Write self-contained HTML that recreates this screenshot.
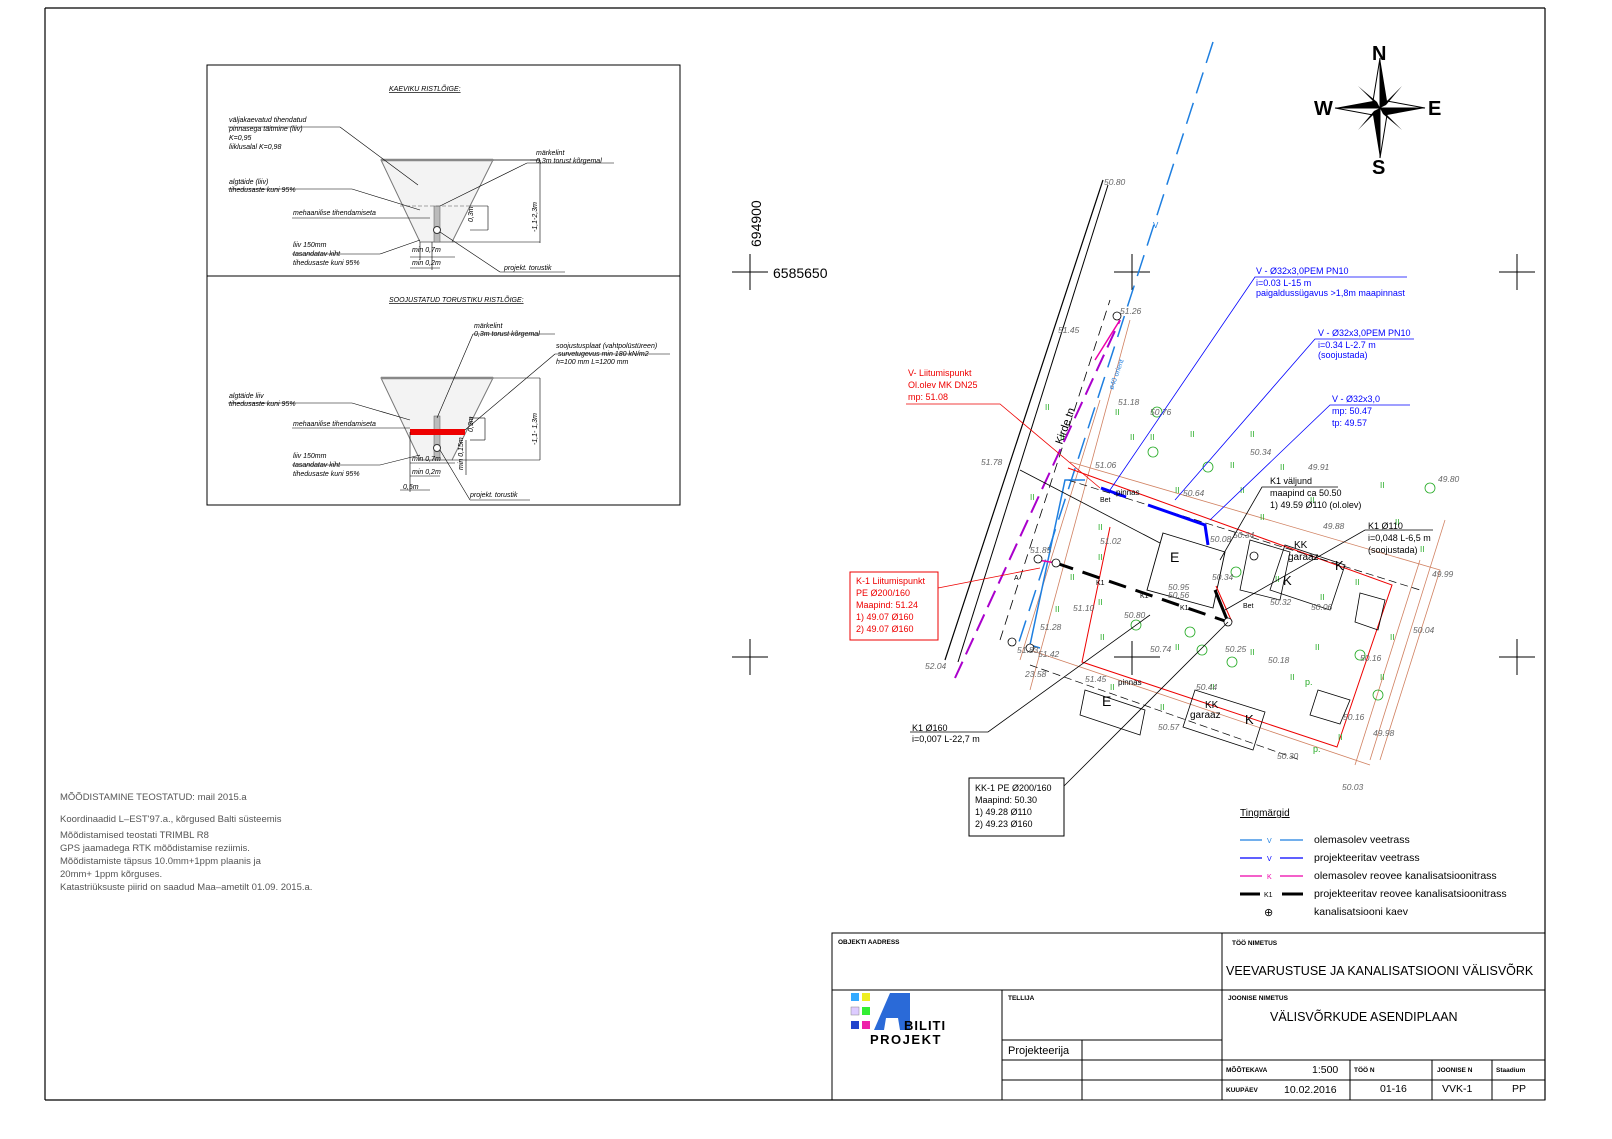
<!DOCTYPE html>
<html><head><meta charset="utf-8"><style>
html,body{margin:0;padding:0;background:#fff}
svg{display:block}
text{font-family:"Liberation Sans",sans-serif}
.it{font-style:italic;font-size:7px}
.g{fill:#666;font-style:italic;font-size:8.5px}
</style></head><body>
<svg width="1612" height="1139" viewBox="0 0 1612 1139" xmlns="http://www.w3.org/2000/svg">
<rect width="1612" height="1139" fill="#fff"/>
<!-- frame -->
<line x1="45" y1="8" x2="1545" y2="8" stroke="#000" stroke-width="1.2"/>
<line x1="45" y1="8" x2="45" y2="1100" stroke="#000" stroke-width="1.2"/>
<line x1="1545" y1="8" x2="1545" y2="1100" stroke="#000" stroke-width="1.2"/>
<line x1="45" y1="1100" x2="930" y2="1100" stroke="#000" stroke-width="1.2"/>

<!-- cross section box -->
<rect x="207" y="65" width="473" height="440" fill="none" stroke="#000" stroke-width="1"/>
<line x1="207" y1="276" x2="680" y2="276" stroke="#000"/>
<text x="389" y="91" class="it" font-size="8" text-decoration="underline">KAEVIKU RISTLÕIGE:</text>
<polygon points="381,160 493,160 452,242 420,242" fill="#f3f3f3" stroke="#777"/>
<line x1="381" y1="160" x2="493" y2="160" stroke="#888" stroke-width="2.5"/>
<rect x="434" y="206" width="6" height="36" fill="#bbb" stroke="#555" stroke-width=".5"/>
<circle cx="437" cy="230" r="3.5" fill="#fff" stroke="#333"/>
<line x1="400" y1="206" x2="470" y2="206" stroke="#555" stroke-dasharray="4 2" stroke-width=".6"/>
<g stroke="#000" stroke-width=".6" fill="none">
<line x1="228" y1="127" x2="340" y2="127"/><line x1="340" y1="127" x2="418" y2="185"/>
<line x1="228" y1="189" x2="352" y2="189"/><line x1="352" y1="189" x2="420" y2="210"/>
<line x1="292" y1="218" x2="430" y2="218"/>
<line x1="292" y1="254" x2="380" y2="254"/><line x1="380" y1="254" x2="420" y2="240"/>
<line x1="493" y1="160" x2="540" y2="160"/><line x1="540" y1="160" x2="530" y2="160"/>
<line x1="527" y1="163" x2="614" y2="163"/><line x1="527" y1="163" x2="440" y2="206"/>
<line x1="500" y1="272" x2="565" y2="272"/><line x1="500" y1="272" x2="440" y2="232"/>
<line x1="493" y1="160" x2="540" y2="160"/><line x1="540" y1="160" x2="540" y2="243"/><line x1="452" y1="242" x2="540" y2="242"/>
<line x1="470" y1="206" x2="488" y2="206"/><line x1="470" y1="230" x2="488" y2="230"/><line x1="488" y1="206" x2="488" y2="230"/>
<line x1="410" y1="257" x2="455" y2="257"/><line x1="410" y1="268" x2="440" y2="268"/>
<line x1="420" y1="242" x2="420" y2="260"/><line x1="432" y1="242" x2="432" y2="270"/>
</g>
<text x="229" y="122" class="it">väljakaevatud tihendatud</text>
<text x="229" y="131" class="it">pinnasega täitmine (liiv)</text>
<text x="229" y="140" class="it">K=0,95</text>
<text x="229" y="149" class="it">liiklusalal K=0,98</text>
<text x="229" y="184" class="it">algtäide (liiv)</text>
<text x="229" y="192" class="it">tihedusaste kuni 95%</text>
<text x="293" y="215" class="it">mehaanilise tihendamiseta</text>
<text x="293" y="247" class="it">liiv 150mm</text>
<text x="293" y="256" class="it">tasandatav kiht</text>
<text x="293" y="265" class="it">tihedusaste kuni 95%</text>
<text x="536" y="155" class="it">märkelint</text>
<text x="536" y="163" class="it">0,3m torust kõrgemal</text>
<text x="504" y="270" class="it">projekt. torustik</text>
<text x="412" y="252" class="it" font-size="6">min 0,7m</text>
<text x="412" y="265" class="it" font-size="6">min 0,2m</text>
<text transform="translate(473,222) rotate(-90)" class="it" font-size="6">0,3m</text>
<text transform="translate(537,232) rotate(-90)" class="it" font-size="6">-1,1-2,3m</text>

<text x="389" y="302" class="it" font-size="8" text-decoration="underline">SOOJUSTATUD TORUSTIKU RISTLÕIGE:</text>
<polygon points="381,378 493,378 452,460 420,460" fill="#f3f3f3" stroke="#777"/>
<line x1="381" y1="378" x2="493" y2="378" stroke="#888" stroke-width="2.5"/>
<rect x="434" y="416" width="6" height="44" fill="#bbb" stroke="#555" stroke-width=".5"/>
<circle cx="437" cy="448" r="3.5" fill="#fff" stroke="#333"/>
<rect x="410" y="429" width="55" height="6" fill="#e00"/>
<g stroke="#000" stroke-width=".6" fill="none">
<line x1="228" y1="403" x2="352" y2="403"/><line x1="352" y1="403" x2="410" y2="420"/>
<line x1="292" y1="428" x2="410" y2="428"/>
<line x1="292" y1="465" x2="380" y2="465"/><line x1="380" y1="465" x2="420" y2="455"/>
<line x1="473" y1="334" x2="555" y2="334"/><line x1="473" y1="334" x2="437" y2="418"/>
<line x1="555" y1="354" x2="670" y2="354"/><line x1="555" y1="354" x2="465" y2="430"/>
<line x1="470" y1="500" x2="530" y2="500"/><line x1="470" y1="500" x2="440" y2="450"/>
<line x1="493" y1="378" x2="540" y2="378"/><line x1="540" y1="378" x2="540" y2="460"/><line x1="452" y1="460" x2="540" y2="460"/>
<line x1="470" y1="418" x2="485" y2="418"/><line x1="470" y1="440" x2="485" y2="440"/><line x1="485" y1="418" x2="485" y2="440"/>
<line x1="410" y1="432" x2="410" y2="492"/><line x1="400" y1="490" x2="430" y2="490"/>
<line x1="410" y1="463" x2="455" y2="463"/><line x1="410" y1="476" x2="440" y2="476"/>
<line x1="466" y1="440" x2="466" y2="475"/>
</g>
<text x="229" y="398" class="it">algtäide liiv</text>
<text x="229" y="406" class="it">tihedusaste kuni 95%</text>
<text x="293" y="426" class="it">mehaanilise tihendamiseta</text>
<text x="293" y="458" class="it">liiv 150mm</text>
<text x="293" y="467" class="it">tasandatav kiht</text>
<text x="293" y="476" class="it">tihedusaste kuni 95%</text>
<text x="474" y="328" class="it">märkelint</text>
<text x="474" y="336" class="it">0,3m torust kõrgemal</text>
<text x="556" y="348" class="it">soojustusplaat (vahtpolüstüreen)</text>
<text x="558" y="356" class="it">survetugevus min 180 kN/m2</text>
<text x="556" y="364" class="it">h=100 mm L=1200 mm</text>
<text x="470" y="497" class="it">projekt. torustik</text>
<text x="412" y="461" class="it" font-size="6">min 0,7m</text>
<text x="412" y="474" class="it" font-size="6">min 0,2m</text>
<text x="403" y="489" class="it" font-size="6">0,5m</text>
<text transform="translate(473,432) rotate(-90)" class="it" font-size="6">0,3m</text>
<text transform="translate(463,470) rotate(-90)" class="it" font-size="6">min 0,15m</text>
<text transform="translate(537,445) rotate(-90)" class="it" font-size="6">-1,1- 1,3m</text>

<!-- coordinate crosses -->
<g stroke="#000" stroke-width="1">
<line x1="732" y1="272" x2="768" y2="272"/><line x1="750" y1="254" x2="750" y2="290"/>
<line x1="1114" y1="272" x2="1150" y2="272"/><line x1="1132" y1="254" x2="1132" y2="290"/>
<line x1="1499" y1="272" x2="1535" y2="272"/><line x1="1517" y1="254" x2="1517" y2="290"/>
<line x1="732" y1="657" x2="768" y2="657"/><line x1="750" y1="639" x2="750" y2="675"/>
<line x1="1499" y1="657" x2="1535" y2="657"/><line x1="1517" y1="639" x2="1517" y2="675"/>
<line x1="1132" y1="641" x2="1132" y2="675"/><line x1="1114" y1="657" x2="1160" y2="657"/>
</g>
<text x="773" y="278" font-size="14">6585650</text>
<text transform="translate(761,247) rotate(-90)" font-size="14">694900</text>

<!-- compass -->
<g transform="translate(1380,108)">
<polygon points="0,-50 7,-7 0,0" fill="#000"/><polygon points="0,-50 -7,-7 0,0" fill="#fff" stroke="#000"/>
<polygon points="0,50 -7,7 0,0" fill="#000"/><polygon points="0,50 7,7 0,0" fill="#fff" stroke="#000"/>
<polygon points="-45,0 -7,-7 0,0" fill="#000"/><polygon points="-45,0 -7,7 0,0" fill="#fff" stroke="#000"/>
<polygon points="45,0 7,7 0,0" fill="#000"/><polygon points="45,0 7,-7 0,0" fill="#fff" stroke="#000"/>
<polygon points="-22,-22 -3,-6 0,0" fill="#000"/><polygon points="22,-22 6,-3 0,0" fill="#000"/>
<polygon points="-22,22 -6,3 0,0" fill="#000"/><polygon points="22,22 3,6 0,0" fill="#000"/>
<text x="-8" y="-48" font-family="Liberation Serif" font-weight="bold" font-size="20">N</text>
<text x="-8" y="66" font-family="Liberation Serif" font-weight="bold" font-size="20">S</text>
<text x="-66" y="7" font-family="Liberation Serif" font-weight="bold" font-size="20">W</text>
<text x="48" y="7" font-family="Liberation Serif" font-weight="bold" font-size="20">E</text>
</g>

<!-- plan -->
<g fill="none">
<line x1="945" y1="660" x2="1103" y2="180" stroke="#000" stroke-width="1.2"/>
<line x1="958" y1="662" x2="1108" y2="185" stroke="#000" stroke-width="1"/>
<line x1="1000" y1="640" x2="1110" y2="300" stroke="#000" stroke-width=".8" stroke-dasharray="10 6"/>
<line x1="955" y1="678" x2="1120" y2="320" stroke="#a0c" stroke-width="2" stroke-dasharray="18 8"/>
<line x1="1213" y1="42" x2="1018" y2="645" stroke="#1e7fe0" stroke-width="1.5" stroke-dasharray="22 10"/>
<line x1="1095" y1="360" x2="1120" y2="320" stroke="#e0a" stroke-width="1.5"/>
<line x1="1020" y1="660" x2="1100" y2="400" stroke="#d08060" stroke-width=".8"/>
<line x1="1130" y1="320" x2="1030" y2="690" stroke="#d08060" stroke-width=".8"/>
<polyline points="1068,468 1392,585 1337,747 1082,662 1110,527" stroke="#e00" stroke-width="1"/>
<polyline points="1070,462 1440,570 1380,760" stroke="#d08060" stroke-width=".8"/>
<polyline points="1030,650 1370,765" stroke="#d08060" stroke-width=".8"/>
<line x1="1420" y1="560" x2="1355" y2="765" stroke="#d08060" stroke-width=".8"/>
<line x1="1445" y1="520" x2="1370" y2="760" stroke="#d08060" stroke-width=".8"/>
<polyline points="1068,480 1420,590" stroke="#000" stroke-width=".7" stroke-dasharray="8 4"/>
<polyline points="1030,665 1300,760" stroke="#000" stroke-width=".7" stroke-dasharray="8 4"/>
<polygon points="1163,533 1225,552 1213,608 1147,590" stroke="#000" stroke-width=".9"/>
<polygon points="1285,545 1345,565 1330,610 1270,590" stroke="#000" stroke-width=".8"/>
<polygon points="1250,540 1290,552 1280,600 1240,590" stroke="#000" stroke-width=".8"/>
<polygon points="1195,690 1265,712 1253,750 1183,727" stroke="#000" stroke-width=".8"/>
<polygon points="1085,690 1145,710 1140,735 1080,715" stroke="#000" stroke-width=".8"/>
<polygon points="1318,690 1350,700 1340,724 1310,715" stroke="#000" stroke-width=".8"/>
<polygon points="1360,593 1385,600 1378,630 1355,622" stroke="#000" stroke-width=".8"/>
<!-- water connections -->
<polyline points="1085,480 1065,480 1030,645 1040,648" stroke="#1e7fe0" stroke-width="1.5"/>
<line x1="1101" y1="488" x2="1126" y2="497" stroke="#00f" stroke-width="3"/>
<polyline points="1148,505 1205,525 1208,545" stroke="#00f" stroke-width="3"/>
<line x1="1038" y1="560" x2="1056" y2="563" stroke="#e0a" stroke-width="1.5"/>
<line x1="1056" y1="563" x2="1228" y2="622" stroke="#000" stroke-width="3" stroke-dasharray="18 10"/>
<line x1="1215" y1="590" x2="1228" y2="622" stroke="#000" stroke-width="3"/>
<line x1="1020" y1="470" x2="1160" y2="543" stroke="#000" stroke-width=".8"/>
<line x1="1216" y1="586" x2="1232" y2="622" stroke="#e00" stroke-width="1"/>
</g>
<g fill="#fff" stroke="#000" stroke-width=".8">
<circle cx="1038" cy="559" r="4"/><circle cx="1056" cy="563" r="4"/><circle cx="1228" cy="622" r="4"/>
<circle cx="1012" cy="642" r="4"/><circle cx="1030" cy="648" r="4"/><circle cx="1117" cy="316" r="4"/>
<circle cx="1254" cy="556" r="4"/>
</g>
<!-- trees & grass -->
<g fill="none" stroke="#2a2" stroke-width=".8">
<circle cx="1157" cy="412" r="5"/><circle cx="1153" cy="452" r="5"/><circle cx="1208" cy="467" r="5"/>
<circle cx="1236" cy="572" r="5"/><circle cx="1190" cy="632" r="5"/><circle cx="1202" cy="650" r="5"/>
<circle cx="1232" cy="662" r="5"/><circle cx="1430" cy="488" r="5"/><circle cx="1378" cy="695" r="5"/>
<circle cx="1360" cy="655" r="5"/><circle cx="1136" cy="625" r="5"/>
</g>
<g fill="#2a2" font-size="8" font-family="Liberation Sans">
<text x="1115" y="415">II</text><text x="1190" y="437">II</text><text x="1150" y="440">II</text><text x="1250" y="437">II</text>
<text x="1230" y="468">II</text><text x="1280" y="470">II</text><text x="1175" y="493">II</text><text x="1240" y="493">II</text>
<text x="1310" y="503">II</text><text x="1380" y="488">II</text><text x="1098" y="530">II</text><text x="1260" y="520">II</text>
<text x="1395" y="525">II</text><text x="1420" y="552">II</text><text x="1098" y="560">II</text><text x="1275" y="582">II</text>
<text x="1320" y="600">II</text><text x="1355" y="585">II</text><text x="1098" y="605">II</text><text x="1055" y="612">II</text>
<text x="1175" y="650">II</text><text x="1250" y="655">II</text><text x="1315" y="650">II</text><text x="1390" y="640">II</text>
<text x="1110" y="690">II</text><text x="1160" y="710">II</text><text x="1290" y="680">II</text><text x="1380" y="680">II</text>
<text x="1070" y="580">II</text><text x="1100" y="640">II</text><text x="1210" y="690">II</text><text x="1338" y="740">II</text>
<text x="1030" y="500">II</text><text x="1045" y="410">II</text><text x="1130" y="440">II</text><text x="1060" y="440">II</text>
</g>
<!-- elevations -->
<g class="g">
<text x="1104" y="185">50.80</text><text x="1120" y="314">51.26</text><text x="1058" y="333">51.45</text>
<text x="1118" y="405">51.18</text><text x="1150" y="415">50.76</text><text x="981" y="465">51.78</text>
<text x="1095" y="468">51.06</text><text x="1183" y="496">50.64</text><text x="1250" y="455">50.34</text>
<text x="1308" y="470">49.91</text><text x="1438" y="482">49.80</text><text x="1100" y="544">51.02</text>
<text x="1030" y="553">51.85</text><text x="1210" y="542">50.08</text><text x="1233" y="538">50.34</text>
<text x="1323" y="529">49.88</text><text x="1212" y="580">50.34</text><text x="1168" y="590">50.95</text>
<text x="1168" y="598">50.56</text><text x="1270" y="605">50.32</text><text x="1311" y="610">50.06</text>
<text x="1432" y="577">49.99</text><text x="1073" y="611">51.10</text><text x="1124" y="618">50.80</text>
<text x="1413" y="633">50.04</text><text x="1040" y="630">51.28</text><text x="1017" y="653">51.83</text>
<text x="1038" y="657">51.42</text><text x="1150" y="652">50.74</text><text x="1225" y="652">50.25</text>
<text x="1268" y="663">50.18</text><text x="1360" y="661">50.16</text><text x="925" y="669">52.04</text>
<text x="1025" y="677">23.58</text><text x="1085" y="682">51.45</text><text x="1196" y="690">50.44</text>
<text x="1343" y="720">50.16</text><text x="1158" y="730">50.57</text><text x="1373" y="736">49.98</text>
<text x="1277" y="759">50.30</text><text x="1342" y="790">50.03</text>
</g>
<g font-size="8.5" fill="#000">
<text x="1116" y="495" font-size="8">pinnas</text><text x="1118" y="685" font-size="8">pinnas</text>
<text x="1170" y="562" font-size="14">E</text><text x="1102" y="706" font-size="14">E</text>
<text x="1283" y="585" font-size="13">K</text><text x="1335" y="570" font-size="13">K</text><text x="1245" y="724" font-size="13">K</text>
<text x="1294" y="548" font-size="10">KK</text><text x="1288" y="560" font-size="10">garaaz</text>
<text x="1205" y="708" font-size="10">KK</text><text x="1190" y="718" font-size="10">garaaz</text>
<text x="1096" y="585" font-size="7">K1</text><text x="1140" y="598" font-size="7">K1</text><text x="1180" y="610" font-size="7">K1</text>
<text x="1014" y="580" font-size="7">A</text><text x="1100" y="502" font-size="7">Bet</text><text x="1243" y="608" font-size="7">Bet</text>
<text transform="translate(1062,445) rotate(-70)" font-size="11">Kirde tn</text>
<text x="1305" y="685" font-size="9" fill="#2a2">p.</text><text x="1313" y="752" font-size="9" fill="#2a2">p.</text>
</g>
<text x="1153" y="228" fill="#1e7fe0" font-size="8">V</text>
<text transform="translate(1113,390) rotate(-70)" fill="#1e7fe0" font-size="7">ø40 orient</text>

<!-- leader lines -->
<g stroke-width=".8" fill="none">
<polyline points="1407,277 1255,277 1110,490" stroke="#00f"/>
<polyline points="1414,339 1315,339 1175,500" stroke="#00f"/>
<polyline points="1410,405 1330,405 1210,520" stroke="#00f"/>
<polyline points="906,404 1000,404 1100,488" stroke="#e00"/>
<polyline points="938,588 1040,568" stroke="#e00"/>
<polyline points="1338,487 1262,487 1220,560" stroke="#000"/>
<polyline points="1433,530 1365,530 1225,610" stroke="#000"/>
<polyline points="910,732 988,732 1150,615" stroke="#000"/>
<polyline points="1060,790 1228,622" stroke="#000"/>
</g>
<g font-size="9">
<text x="1256" y="274" fill="#00f">V - Ø32x3,0PEM  PN10</text>
<text x="1256" y="286" fill="#00f">i=0.03 L-15 m</text>
<text x="1256" y="296" fill="#00f">paigaldussügavus &gt;1,8m maapinnast</text>
<text x="1318" y="336" fill="#00f">V - Ø32x3,0PEM  PN10</text>
<text x="1318" y="348" fill="#00f">i=0.34 L-2.7 m</text>
<text x="1318" y="358" fill="#00f">(soojustada)</text>
<text x="1332" y="402" fill="#00f">V - Ø32x3,0</text>
<text x="1332" y="414" fill="#00f">mp: 50.47</text>
<text x="1332" y="426" fill="#00f">tp: 49.57</text>
<text x="908" y="376" fill="#e00">V- Liitumispunkt</text>
<text x="908" y="388" fill="#e00">Ol.olev MK DN25</text>
<text x="908" y="400" fill="#e00">mp: 51.08</text>
<text x="1270" y="484">K1 väljund</text>
<text x="1270" y="496">maapind ca 50.50</text>
<text x="1270" y="508">1) 49.59 Ø110 (ol.olev)</text>
<text x="1368" y="529">K1 Ø110</text>
<text x="1368" y="541">i=0,048 L-6,5 m</text>
<text x="1368" y="553">(soojustada)</text>
<text x="912" y="731">K1 Ø160</text>
<text x="912" y="742">i=0,007 L-22,7 m</text>
</g>
<rect x="850" y="572" width="88" height="68" fill="none" stroke="#e00"/>
<g font-size="9" fill="#e00">
<text x="856" y="584">K-1 Liitumispunkt</text><text x="856" y="596">PE Ø200/160</text>
<text x="856" y="608">Maapind: 51.24</text><text x="856" y="620">1) 49.07 Ø160</text><text x="856" y="632">2) 49.07 Ø160</text>
</g>
<rect x="969" y="778" width="95" height="58" fill="#fff" stroke="#000"/>
<g font-size="9"><text x="975" y="791">KK-1 PE Ø200/160</text><text x="975" y="803">Maapind: 50.30</text>
<text x="975" y="815">1) 49.28 Ø110</text><text x="975" y="827">2) 49.23 Ø160</text></g>

<!-- legend -->
<text x="1240" y="816" font-size="10" text-decoration="underline">Tingmärgid</text>
<g stroke-width="1.2">
<line x1="1240" y1="840" x2="1303" y2="840" stroke="#1e7fe0"/>
<line x1="1240" y1="858" x2="1303" y2="858" stroke="#00f"/>
<line x1="1240" y1="876" x2="1303" y2="876" stroke="#e0a"/>
<line x1="1240" y1="894" x2="1303" y2="894" stroke="#000" stroke-width="3"/>
</g>
<rect x="1262" y="834" width="18" height="12" fill="#fff"/><rect x="1262" y="852" width="18" height="12" fill="#fff"/>
<rect x="1262" y="870" width="18" height="12" fill="#fff"/><rect x="1260" y="888" width="22" height="12" fill="#fff"/>
<text x="1267" y="843" font-size="7" fill="#1e7fe0">V</text><text x="1267" y="861" font-size="7" fill="#00f">V</text>
<text x="1267" y="879" font-size="7" fill="#e0a">K</text><text x="1264" y="897" font-size="7">K1</text>
<text x="1264" y="916" font-size="11">⊕</text>
<g font-size="10.5"><text x="1314" y="843">olemasolev veetrass</text><text x="1314" y="861">projekteeritav veetrass</text>
<text x="1314" y="879">olemasolev reovee kanalisatsioonitrass</text><text x="1314" y="897">projekteeritav reovee kanalisatsioonitrass</text>
<text x="1314" y="915">kanalisatsiooni kaev</text></g>

<!-- notes -->
<g font-family="DejaVu Sans" font-size="9.5" fill="#555">
<text x="60" y="800">MÕÕDISTAMINE TEOSTATUD:  mail 2015.a</text>
<text x="60" y="822">Koordinaadid L–EST'97.a., kõrgused Balti süsteemis</text>
<text x="60" y="838">Mõõdistamised teostati TRIMBL R8</text>
<text x="60" y="851">GPS jaamadega RTK mõõdistamise reziimis.</text>
<text x="60" y="864">Mõõdistamiste täpsus 10.0mm+1ppm plaanis ja</text>
<text x="60" y="877">20mm+ 1ppm kõrguses.</text>
<text x="60" y="890">Katastriüksuste piirid on saadud Maa–ametilt 01.09. 2015.a.</text>
</g>

<!-- title block -->
<g stroke="#000" stroke-width="1" fill="none">
<rect x="832" y="933" width="713" height="167"/>
<line x1="832" y1="990" x2="1545" y2="990"/>
<line x1="1222" y1="933" x2="1222" y2="1100"/>
<line x1="1002" y1="990" x2="1002" y2="1100"/>
<line x1="1002" y1="1040" x2="1222" y2="1040"/>
<line x1="1002" y1="1060" x2="1545" y2="1060"/>
<line x1="1002" y1="1080" x2="1545" y2="1080"/>
<line x1="1082" y1="1040" x2="1082" y2="1100"/>
<line x1="1350" y1="1060" x2="1350" y2="1100"/>
<line x1="1432" y1="1060" x2="1432" y2="1100"/>
<line x1="1492" y1="1060" x2="1492" y2="1100"/>
</g>
<g font-size="6.5" font-weight="bold" font-family="DejaVu Sans Condensed, DejaVu Sans, sans-serif">
<text x="838" y="944">OBJEKTI AADRESS</text><text x="1232" y="945">TÖÖ NIMETUS</text>
<text x="1008" y="1000">TELLIJA</text><text x="1228" y="1000">JOONISE NIMETUS</text>
<text x="1226" y="1072">MÕÕTEKAVA</text><text x="1354" y="1072">TÖÖ N</text><text x="1437" y="1072">JOONISE N</text><text x="1496" y="1072">Staadium</text>
<text x="1226" y="1092">KUUPÄEV</text>
</g>
<text x="1226" y="975" font-size="12.5">VEEVARUSTUSE JA KANALISATSIOONI VÄLISVÕRK</text>
<text x="1270" y="1021" font-size="12.5">VÄLISVÕRKUDE ASENDIPLAAN</text>
<text x="1008" y="1054" font-size="11">Projekteerija</text>
<g font-family="Liberation Mono" font-size="10.5">
<text x="1312" y="1073">1:500</text><text x="1284" y="1093">10.02.2016</text><text x="1380" y="1092">01-16</text>
<text x="1442" y="1092">VVK-1</text><text x="1512" y="1092">PP</text></g>
<!-- logo -->
<rect x="851" y="993" width="8" height="8" fill="#3af"/><rect x="862" y="993" width="8" height="8" fill="#ee2"/>
<rect x="851" y="1007" width="8" height="8" fill="#dcf" stroke="#888" stroke-width=".5"/><rect x="862" y="1007" width="8" height="8" fill="#3e3"/>
<rect x="851" y="1021" width="8" height="8" fill="#24c"/><rect x="862" y="1021" width="8" height="8" fill="#e2a"/>
<polygon points="874,1030 890,993 910,993 910,1030 900,1030 898,1018 886,1018 884,1030" fill="#2a6ad8"/>
<text x="904" y="1030" font-size="13" font-weight="bold" letter-spacing="1">BILITI</text>
<text x="870" y="1044" font-size="13" font-weight="bold" letter-spacing="1.5" font-family="DejaVu Sans">PROJEKT</text>
</svg>
</body></html>
